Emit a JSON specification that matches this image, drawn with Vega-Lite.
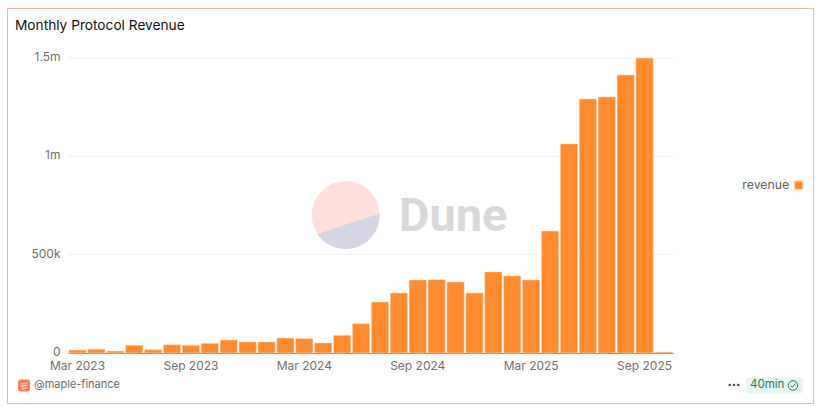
{
  "$schema": "https://vega.github.io/schema/vega-lite/v6.json",
  "width": 806,
  "height": 395,
  "autosize": "none",
  "padding": {"left": 7, "top": 8, "right": 10, "bottom": 4},
  "background": "white",
  "title": {
    "text": "Monthly Protocol Revenue",
    "anchor": "start",
    "frame": "group",
    "dx": 8,
    "offset": -25,
    "font": "Inter",
    "fontSize": 13.7,
    "fontWeight": 400,
    "color": "#111111"
  },
  "config": {
    "font": "Inter",
    "view": {"stroke": "#f4b5a5", "strokeWidth": 1}
  },
  "layer": [
    {
      "data": {"values": [{"v": 500000}, {"v": 1000000}, {"v": 1500000}]},
      "mark": {"type": "rule", "color": "#eeeeee", "strokeWidth": 1, "xOffset": -9.5, "x2Offset": 9.5},
      "encoding": {
        "y": {"field": "v", "type": "quantitative"},
        "x": {"datum": "Mar 2023", "type": "ordinal"},
        "x2": {"datum": "Oct 2025"}
      }
    },
    {
      "data": {"values": [{"label": "disc"}]},
      "mark": {"type": "point", "shape": "circle", "filled": true, "fill": "#ffdfdb", "opacity": 1, "size": 4624, "xOffset": 3.5},
      "encoding": {
        "x": {"datum": "May 2024", "type": "ordinal"},
        "y": {"datum": 702000, "type": "quantitative"}
      }
    },
    {
      "data": {"values": [{"label": "disc"}]},
      "mark": {"type": "point", "shape": "M-0.83,0.56 L1,-0.04 A1,1,0,0,1,-0.83,0.56 Z", "filled": true, "fill": "#d6d5e3", "opacity": 1, "size": 4624, "xOffset": 3.5},
      "encoding": {
        "x": {"datum": "May 2024", "type": "ordinal"},
        "y": {"datum": 702000, "type": "quantitative"}
      }
    },
    {
      "data": {"values": [{"label": "Dune"}]},
      "mark": {"type": "text", "align": "left", "baseline": "middle", "dy": 2, "fontSize": 47, "fontWeight": 700, "color": "#d8d8d8", "font": "Roboto"},
      "encoding": {
        "x": {"datum": "Aug 2024", "type": "ordinal"},
        "y": {"datum": 702000, "type": "quantitative"},
        "text": {"field": "label"}
      }
    },
    {
      "data": {
        "values": [
          {"month": "Mar 2023", "revenue": 15000, "series": "revenue"},
          {"month": "Apr 2023", "revenue": 19000, "series": "revenue"},
          {"month": "May 2023", "revenue": 10000, "series": "revenue"},
          {"month": "Jun 2023", "revenue": 39000, "series": "revenue"},
          {"month": "Jul 2023", "revenue": 17000, "series": "revenue"},
          {"month": "Aug 2023", "revenue": 42000, "series": "revenue"},
          {"month": "Sep 2023", "revenue": 39000, "series": "revenue"},
          {"month": "Oct 2023", "revenue": 49000, "series": "revenue"},
          {"month": "Nov 2023", "revenue": 66000, "series": "revenue"},
          {"month": "Dec 2023", "revenue": 56000, "series": "revenue"},
          {"month": "Jan 2024", "revenue": 56000, "series": "revenue"},
          {"month": "Feb 2024", "revenue": 76000, "series": "revenue"},
          {"month": "Mar 2024", "revenue": 73000, "series": "revenue"},
          {"month": "Apr 2024", "revenue": 51000, "series": "revenue"},
          {"month": "May 2024", "revenue": 90000, "series": "revenue"},
          {"month": "Jun 2024", "revenue": 149000, "series": "revenue"},
          {"month": "Jul 2024", "revenue": 259000, "series": "revenue"},
          {"month": "Aug 2024", "revenue": 305000, "series": "revenue"},
          {"month": "Sep 2024", "revenue": 371000, "series": "revenue"},
          {"month": "Oct 2024", "revenue": 373000, "series": "revenue"},
          {"month": "Nov 2024", "revenue": 361000, "series": "revenue"},
          {"month": "Dec 2024", "revenue": 305000, "series": "revenue"},
          {"month": "Jan 2025", "revenue": 412000, "series": "revenue"},
          {"month": "Feb 2025", "revenue": 392000, "series": "revenue"},
          {"month": "Mar 2025", "revenue": 371000, "series": "revenue"},
          {"month": "Apr 2025", "revenue": 620000, "series": "revenue"},
          {"month": "May 2025", "revenue": 1063000, "series": "revenue"},
          {"month": "Jun 2025", "revenue": 1292000, "series": "revenue"},
          {"month": "Jul 2025", "revenue": 1302000, "series": "revenue"},
          {"month": "Aug 2025", "revenue": 1414000, "series": "revenue"},
          {"month": "Sep 2025", "revenue": 1500000, "series": "revenue"},
          {"month": "Oct 2025", "revenue": 5000, "series": "revenue"}
        ]
      },
      "mark": {"type": "bar", "stroke": "#ffd9bd", "strokeWidth": 0.5},
      "encoding": {
        "x": {
          "field": "month",
          "type": "ordinal",
          "title": null,
          "scale": {
            "domain": ["Mar 2023", "Apr 2023", "May 2023", "Jun 2023", "Jul 2023", "Aug 2023", "Sep 2023", "Oct 2023", "Nov 2023", "Dec 2023", "Jan 2024", "Feb 2024", "Mar 2024", "Apr 2024", "May 2024", "Jun 2024", "Jul 2024", "Aug 2024", "Sep 2024", "Oct 2024", "Nov 2024", "Dec 2024", "Jan 2025", "Feb 2025", "Mar 2025", "Apr 2025", "May 2025", "Jun 2025", "Jul 2025", "Aug 2025", "Sep 2025", "Oct 2025"],
            "range": [61, 666],
            "paddingInner": 0.09,
            "paddingOuter": 0.05
          },
          "axis": {
            "values": ["Mar 2023", "Sep 2023", "Mar 2024", "Sep 2024", "Mar 2025", "Sep 2025"],
            "labelAngle": 0,
            "labelAlign": "center",
            "labelBaseline": "top",
            "offset": -50,
            "ticks": false,
            "labelPadding": 7,
            "labelFontSize": 12,
            "labelColor": "#6f6f6f",
            "labelFont": "Inter",
            "domainColor": "#8c8c8c",
            "domainWidth": 1,
            "grid": false
          }
        },
        "y": {
          "field": "revenue",
          "type": "quantitative",
          "title": null,
          "scale": {"domain": [0, 1500000], "range": [345, 50], "nice": false},
          "axis": {
            "values": [0, 500000, 1000000, 1500000],
            "labelExpr": "datum.value == 0 ? '0' : datum.value >= 1000000 ? (datum.value / 1000000) + 'm' : (datum.value / 1000) + 'k'",
            "offset": -61,
            "ticks": false,
            "domain": false,
            "grid": false,
            "labelPadding": 8,
            "labelOffset": -1.5,
            "labelFontSize": 12,
            "labelColor": "#6f6f6f",
            "labelFont": "Inter"
          }
        },
        "color": {
          "field": "series",
          "type": "nominal",
          "scale": {"domain": ["revenue"], "range": ["#ff8b2e"]},
          "legend": {
            "title": null,
            "orient": "none",
            "legendX": 735,
            "legendY": 171,
            "symbolType": "M-1,-0.6 Q-1,-1,-0.6,-1 L0.6,-1 Q1,-1,1,-0.6 L1,0.6 Q1,1,0.6,1 L-0.6,1 Q-1,1,-1,0.6 Z",
            "symbolSize": 81,
            "symbolOffset": 50.5,
            "labelOffset": -62.5,
            "labelFontSize": 12.3,
            "labelColor": "#5f5f5f",
            "labelFont": "Inter"
          }
        }
      }
    },
    {
      "data": {"values": [{"label": "icon"}]},
      "mark": {"type": "point", "shape": "M-1,-0.6 Q-1,-1,-0.6,-1 L0.6,-1 Q1,-1,1,-0.6 L1,0.6 Q1,1,0.6,1 L-0.6,1 Q-1,1,-1,0.6 Z", "filled": true, "fill": "#ff7a50", "opacity": 1, "size": 144, "xOffset": -53.5},
      "encoding": {
        "x": {"datum": "Mar 2023", "type": "ordinal"},
        "y": {"datum": -165000, "type": "quantitative"}
      }
    },
    {
      "data": {"values": [{"label": "icon"}]},
      "mark": {"type": "point", "shape": "M-0.6,-0.3 L0.6,-0.55 L0.6,-0.35 L-0.6,-0.1 Z M-0.6,0.1 L0.6,-0.15 L0.6,0.05 L-0.6,0.3 Z M-0.5,0.5 L0.6,0.25 L0.5,0.45 L-0.2,0.6 Z", "filled": true, "fill": "#ffe9e0", "opacity": 1, "size": 144, "xOffset": -53.5},
      "encoding": {
        "x": {"datum": "Mar 2023", "type": "ordinal"},
        "y": {"datum": -165000, "type": "quantitative"}
      }
    },
    {
      "data": {"values": [{"label": "@maple-finance"}]},
      "mark": {"type": "text", "align": "left", "baseline": "middle", "fontSize": 11, "color": "#6a6a6a", "font": "Inter", "xOffset": -43.5},
      "encoding": {
        "x": {"datum": "Mar 2023", "type": "ordinal"},
        "y": {"datum": -165000, "type": "quantitative"},
        "text": {"field": "label"}
      }
    },
    {
      "data": {"values": [{"label": "···"}]},
      "mark": {"type": "text", "align": "center", "baseline": "middle", "fontSize": 13, "fontWeight": 700, "color": "#333333", "font": "Inter", "xOffset": 70.5},
      "encoding": {
        "x": {"datum": "Oct 2025", "type": "ordinal"},
        "y": {"datum": -165000, "type": "quantitative"},
        "text": {"field": "label"}
      }
    },
    {
      "data": {"values": [{"label": "badge"}]},
      "mark": {"type": "point", "shape": "M-1,-0.16 Q-1,-0.28,-0.88,-0.28 L0.88,-0.28 Q1,-0.28,1,-0.16 L1,0.16 Q1,0.28,0.88,0.28 L-0.88,0.28 Q-1,0.28,-1,0.16 Z", "filled": true, "fill": "#e7f6ef", "opacity": 1, "size": 3249, "xOffset": 111},
      "encoding": {
        "x": {"datum": "Oct 2025", "type": "ordinal"},
        "y": {"datum": -165000, "type": "quantitative"}
      }
    },
    {
      "data": {"values": [{"label": "40min"}]},
      "mark": {"type": "text", "align": "left", "baseline": "middle", "fontSize": 11.5, "color": "#1d7d5b", "font": "Inter", "xOffset": 86.5},
      "encoding": {
        "x": {"datum": "Oct 2025", "type": "ordinal"},
        "y": {"datum": -165000, "type": "quantitative"},
        "text": {"field": "label"}
      }
    },
    {
      "data": {"values": [{"label": "check"}]},
      "mark": {"type": "point", "shape": "circle", "filled": false, "stroke": "#1d7d5b", "strokeWidth": 1, "opacity": 1, "size": 90, "xOffset": 129.5},
      "encoding": {
        "x": {"datum": "Oct 2025", "type": "ordinal"},
        "y": {"datum": -165000, "type": "quantitative"}
      }
    },
    {
      "data": {"values": [{"label": "check"}]},
      "mark": {"type": "point", "shape": "M-0.5,0 L-0.12,0.4 L0.5,-0.4", "filled": false, "stroke": "#1d7d5b", "strokeWidth": 1, "opacity": 1, "size": 90, "xOffset": 129.5},
      "encoding": {
        "x": {"datum": "Oct 2025", "type": "ordinal"},
        "y": {"datum": -165000, "type": "quantitative"}
      }
    }
  ]
}
